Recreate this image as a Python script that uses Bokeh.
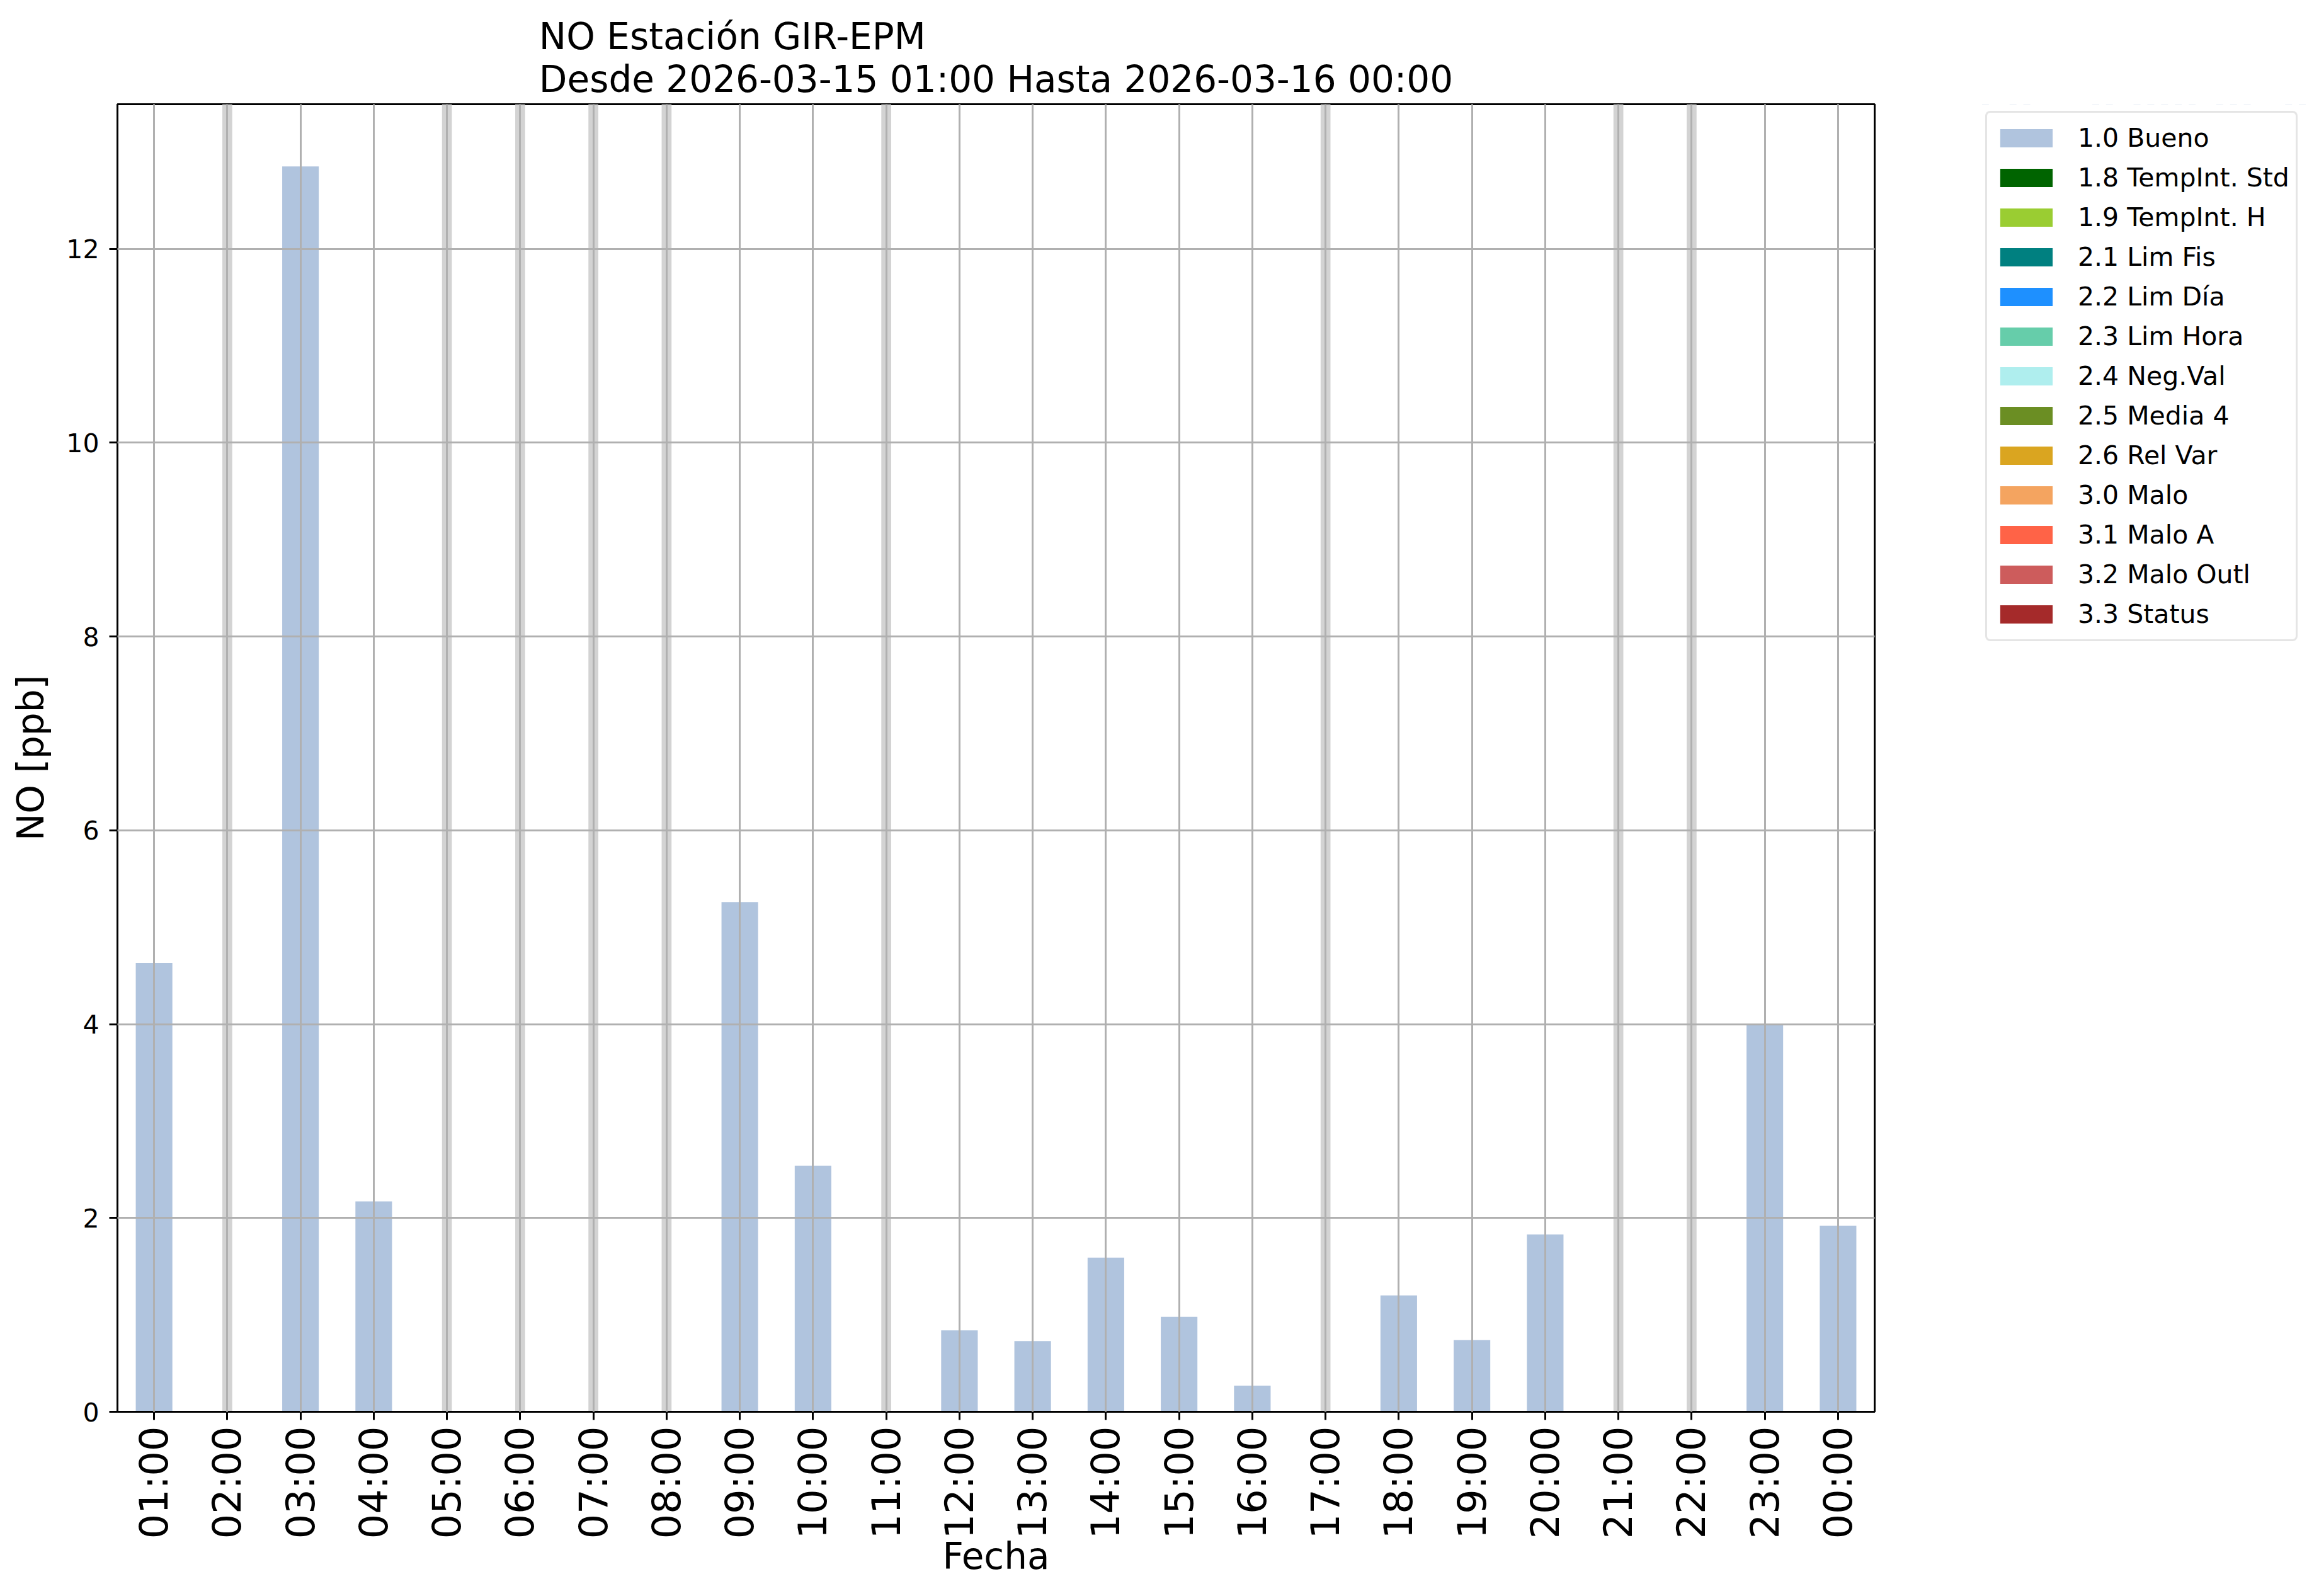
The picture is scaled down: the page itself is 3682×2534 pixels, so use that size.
import math
import numpy as np
from bokeh.plotting import figure
from bokeh.layouts import row
from bokeh.models import (ColumnDataSource, FactorRange, Range1d, FixedTicker, Legend,
                          LegendItem)
from bokeh.embed import file_html
from bokeh.resources import INLINE

# ---------------- data ----------------
hours = ["01:00", "02:00", "03:00", "04:00", "05:00", "06:00", "07:00", "08:00",
         "09:00", "10:00", "11:00", "12:00", "13:00", "14:00", "15:00", "16:00",
         "17:00", "18:00", "19:00", "20:00", "21:00", "22:00", "23:00", "00:00"]
nan = float("nan")
no_ppb = [4.63, nan, 12.85, 2.17, nan, nan, nan, nan,
          5.26, 2.54, nan, 0.84, 0.73, 1.59, 0.98, 0.27,
          nan, 1.20, 0.74, 1.83, nan, nan, 3.99, 1.92]
flags = ["1.0", None, "1.0", "1.0", None, None, None, None,
         "1.0", "1.0", None, "1.0", "1.0", "1.0", "1.0", "1.0",
         None, "1.0", "1.0", "1.0", None, None, "1.0", "1.0"]

flag_codes = ["1.0", "1.8", "1.9", "2.1", "2.2", "2.3", "2.4", "2.5", "2.6", "3.0", "3.1", "3.2", "3.3"]
flag_labels = ["1.0 Bueno", "1.8 TempInt. Std", "1.9 TempInt. H", "2.1 Lim Fis", "2.2 Lim Día",
               "2.3 Lim Hora", "2.4 Neg.Val", "2.5 Media 4", "2.6 Rel Var", "3.0 Malo",
               "3.1 Malo A", "3.2 Malo Outl", "3.3 Status"]
flag_colors = ["#b0c4de", "#006400", "#9acd32", "#008080", "#1e90ff", "#66cdaa", "#afeeee",
               "#6b8e23", "#daa520", "#f4a460", "#ff6347", "#cd5c5c", "#a52a2a"]

y_ticks = [0, 2, 4, 6, 8, 10, 12]
title_lines = ["NO Estación GIR-EPM", "Desde 2026-03-15 01:00 Hasta 2026-03-16 00:00"]
x_label = "Fecha"
y_label = "NO [ppb]"

# ---------------- layout constants ----------------
FONT = "DejaVu Sans"
TOTAL_W, TOTAL_H = 3666, 2518
LEFT, TOP, FRAME_W, FRAME_H = 186, 165, 2790, 2076
BOTTOM = TOTAL_H - TOP - FRAME_H
P_RIGHT = 10
P_W = LEFT + FRAME_W + P_RIGHT
Q_W = TOTAL_W - P_W

vals = np.array(no_ppb, dtype=float)
ymax = float(np.nanmax(vals)) * 1.05

# ---------------- main chart ----------------
p = figure(width=P_W, height=TOTAL_H,
           x_range=FactorRange(*hours, range_padding=0),
           y_range=Range1d(0, ymax),
           output_backend="svg", toolbar_location=None,
           min_border_left=LEFT, min_border_right=P_RIGHT,
           min_border_top=TOP, min_border_bottom=BOTTOM)
p.background_fill_color = "white"
p.border_fill_color = "white"

# missing-data markers
missing_hours = [h for h, v in zip(hours, no_ppb) if math.isnan(v)]
miss_src = ColumnDataSource(dict(x=missing_hours, top=[ymax] * len(missing_hours)))
p.vbar(x="x", top="top", bottom=0, width=0.135, source=miss_src,
       fill_color="#d3d3d3", line_color=None)

sources = []
for code in flag_codes:
    ts = [v if f == code else nan for f, v in zip(flags, no_ppb)]
    sources.append(ColumnDataSource(dict(x=hours, top=ts)))

for src, col in zip(sources, flag_colors):
    p.vbar(x="x", top="top", bottom=0, width=0.5, source=src,
           fill_color=col, line_color=None)

# title
p.title.text = "\n".join(title_lines)
p.title.align = "center"
p.title.text_font = FONT
p.title.text_font_size = "58px"
p.title.text_font_style = "normal"
p.title.text_color = "black"
p.title.standoff = 12

# outline
p.outline_line_color = "black"
p.outline_line_width = 3
p.outline_line_alpha = 1.0

# grids
for g in (p.xgrid, p.ygrid):
    g.grid_line_color = "#b0b0b0"
    g.grid_line_width = 3
    g.level = "overlay"
p.ygrid.ticker = FixedTicker(ticks=y_ticks)

# axes
xa = p.xaxis[0]
xa.axis_label = x_label
xa.major_label_orientation = math.pi / 2
xa.major_label_text_font = FONT
xa.major_label_text_font_size = "62px"
xa.major_label_text_color = "black"
xa.major_label_standoff = 10
xa.axis_label_text_font = FONT
xa.axis_label_text_font_size = "58px"
xa.axis_label_text_font_style = "normal"
xa.axis_label_text_color = "black"
xa.axis_label_standoff = -9

ya = p.yaxis[0]
ya.ticker = FixedTicker(ticks=y_ticks)
ya.axis_label = y_label
ya.major_label_text_font = FONT
ya.major_label_text_font_size = "41px"
ya.major_label_text_color = "black"
ya.major_label_standoff = 16
ya.axis_label_text_font = FONT
ya.axis_label_text_font_size = "58px"
ya.axis_label_text_font_style = "normal"
ya.axis_label_text_color = "black"
ya.axis_label_standoff = 19

for ax in (xa, ya):
    ax.axis_line_color = "black"
    ax.axis_line_width = 3
    ax.major_tick_line_color = "black"
    ax.major_tick_line_width = 3
    ax.major_tick_out = 13
    ax.major_tick_in = 0
    ax.minor_tick_out = 0
    ax.minor_tick_in = 0

# ---------------- legend panel (to the right of the chart) ----------------
LEG_GAP_X = 176          # frame edge -> legend box
LEG_GAP_Y = 11           # frame top -> legend box
q = figure(width=Q_W, height=TOTAL_H,
           x_range=FactorRange(*hours), y_range=Range1d(-2, -1),
           output_backend="svg", toolbar_location=None,
           x_axis_location=None, y_axis_location=None,
           min_border_left=LEG_GAP_X - P_RIGHT - LEG_GAP_Y, min_border_top=TOP,
           min_border_right=0, min_border_bottom=BOTTOM)
q.outline_line_color = None
q.xgrid.visible = False
q.ygrid.visible = False
q.background_fill_color = "white"
q.border_fill_color = "white"

items = []
for src, lab, col in zip(sources, flag_labels, flag_colors):
    r = q.vbar(x="x", top="top", bottom=0, width=0.5, source=src,
               fill_color=col, line_color=None)
    items.append(LegendItem(label=lab, renderers=[r]))

legend = Legend(items=items, location="top_left",
                glyph_width=104, glyph_height=36, label_standoff=30,
                padding=10, spacing=3, label_height=60, margin=LEG_GAP_Y,
                label_text_font=FONT, label_text_font_size="41px",
                label_text_color="black",
                border_line_color="#cccccc", border_line_width=3,
                border_radius=8,
                background_fill_color="white", background_fill_alpha=0.8)
q.add_layout(legend, "center")

layout = row(p, q, spacing=0)
open("out.html", "w").write(file_html(layout, INLINE))
